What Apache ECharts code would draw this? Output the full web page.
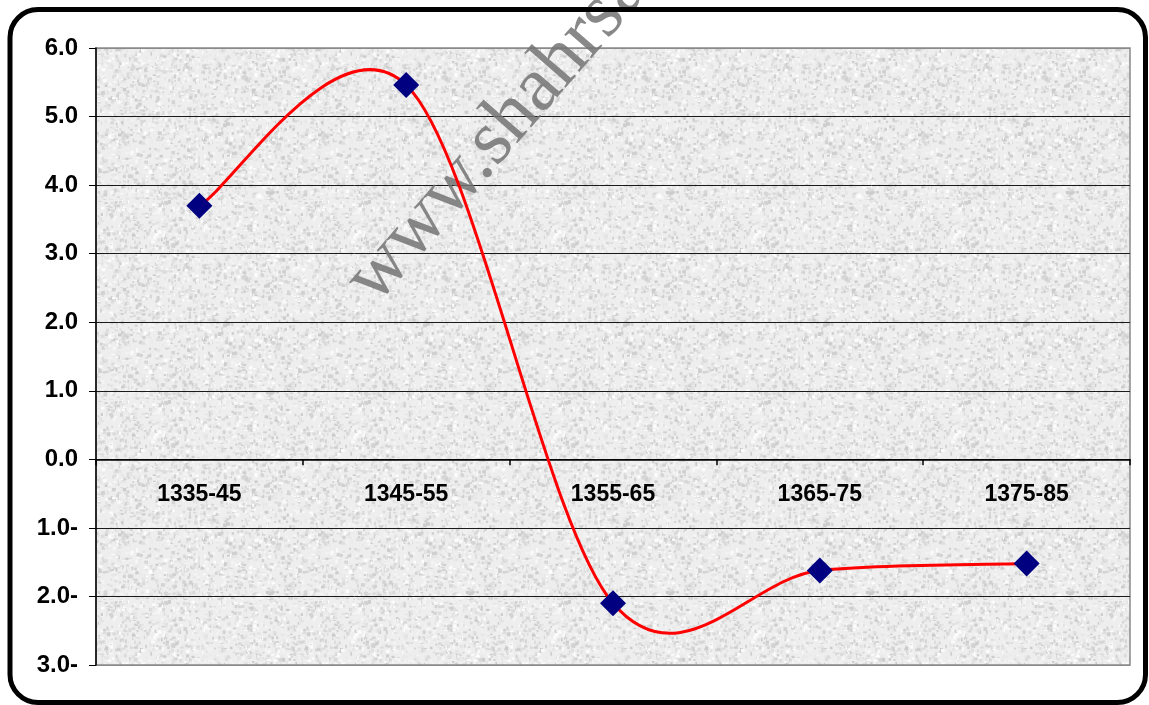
<!DOCTYPE html>
<html>
<head>
<meta charset="utf-8">
<script src="https://cdn.jsdelivr.net/npm/echarts@6/dist/echarts.min.js"></script>
<style>
html,body{margin:0;padding:0;background:#fff;}
#c{width:1149px;height:705px;}
</style>
</head>
<body>
<div id="c"></div>
<script>
const categories = ['1335-45', '1345-55', '1355-65', '1365-75', '1375-85'];
const values = [3.7, 5.46, -2.1, -1.62, -1.52];
const yMin = -3, yMax = 6, yStep = 1;
const watermarkText = 'www.shahrsaz';

// decorative granite-like texture (deterministic)
function makeTexture() {
  const cv = document.createElement('canvas');
  cv.width = 200; cv.height = 200;
  const ctx = cv.getContext('2d');
  ctx.fillStyle = '#eeeeee';
  ctx.fillRect(0, 0, 200, 200);
  let s = 12345;
  const rnd = () => { s = (s * 1103515245 + 12345) & 0x7fffffff; return s / 0x7fffffff; };
  for (let i = 0; i < 4000; i++) {
    const x = rnd() * 200, y = rnd() * 200;
    const g = Math.floor(203 + rnd() * 52);
    ctx.fillStyle = 'rgb(' + g + ',' + g + ',' + g + ')';
    const w = 1 + rnd() * 3, h = 1 + rnd() * 3;
    ctx.fillRect(x, y, w, h);
  }
  return cv;
}

const W = 1149, H = 705;
const gridTop = 48, gridBottom = 40;
const plotH = H - gridTop - gridBottom;
// distance (px) from the grid's bottom edge up to the zero line, so the category labels sit under the zero line
const zeroFromBottom = plotH * (0 - yMin) / (yMax - yMin);

const chart = echarts.init(document.getElementById('c'), null, {renderer: 'canvas'});
const nTicks = Math.round((yMax - yMin) / yStep) + 1;
const splitColors = [];
for (let i = 0; i < nTicks; i++) splitColors.push(i === 0 || i === nTicks - 1 ? '#8a8a8a' : '#1a1a1a');

// Excel-style smoothed segment (cardinal spline, 1/6 tangent factor) using the axis scales
function renderSegment(params, api) {
  const i = params.dataIndex;
  const n = values.length;
  if (i >= n - 1) return null;
  const pt = k => { const j = Math.max(0, Math.min(n - 1, k)); return api.coord([j, values[j]]); };
  const p0 = pt(i - 1), p1 = pt(i), p2 = pt(i + 1), p3 = pt(i + 2);
  return {
    type: 'bezierCurve',
    shape: {
      x1: p1[0], y1: p1[1],
      cpx1: p1[0] + (p2[0] - p0[0]) / 6, cpy1: p1[1] + (p2[1] - p0[1]) / 6,
      cpx2: p2[0] - (p3[0] - p1[0]) / 6, cpy2: p2[1] - (p3[1] - p1[1]) / 6,
      x2: p2[0], y2: p2[1]
    },
    style: {stroke: '#ff0000', lineWidth: 3, fill: null}
  };
}

chart.setOption({
  animation: false,
  backgroundColor: '#ffffff',
  grid: {
    left: 96, right: 19, top: gridTop, bottom: gridBottom,
    outerBoundsMode: 'none',
    containLabel: false,
    show: true,
    backgroundColor: {image: makeTexture(), repeat: 'repeat'},
    borderColor: '#8a8a8a',
    borderWidth: 1.5
  },
  xAxis: {
    type: 'category',
    data: categories,
    boundaryGap: true,
    axisLine: {show: true, onZero: true, lineStyle: {color: '#000', width: 1.5}},
    axisTick: {show: true, length: 6, lineStyle: {color: '#000', width: 1.5}},
    axisLabel: {
      margin: -zeroFromBottom + 24,
      fontFamily: 'Liberation Sans, Arial, sans-serif',
      fontWeight: 'bold',
      fontSize: 23,
      color: '#000'
    },
    splitLine: {show: false}
  },
  yAxis: {
    type: 'value',
    min: yMin, max: yMax, interval: yStep,
    axisLine: {show: true, lineStyle: {color: '#000', width: 1.5}},
    axisTick: {show: true, length: 7, lineStyle: {color: '#000', width: 1}},
    axisLabel: {
      margin: 18,
      fontFamily: 'Liberation Sans, Arial, sans-serif',
      fontWeight: 'bold',
      fontSize: 24,
      color: '#000',
      formatter: v => v < 0 ? Math.abs(v).toFixed(1) + '-' : v.toFixed(1)
    },
    splitLine: {show: true, lineStyle: {color: splitColors, width: 1}}
  },
  graphic: [
    {
      type: 'text',
      x: 390, y: 318,
      rotation: 49 * Math.PI / 180,
      z: 1,
      silent: true,
      style: {
        text: watermarkText,
        font: '78px "Liberation Serif", "Times New Roman", serif',
        fill: 'rgba(115,115,115,0.85)',
        textAlign: 'left',
        textVerticalAlign: 'bottom'
      }
    },
    {
      type: 'rect',
      z: 10,
      silent: true,
      shape: {x: 10, y: 9.5, width: 1135.5, height: 693, r: 28},
      style: {fill: 'none', stroke: '#000', lineWidth: 5}
    }
  ],
  series: [
    {
      type: 'custom',
      data: values.map((v, i) => [i, v]),
      renderItem: renderSegment,
      z: 4,
      silent: true
    },
    {
      type: 'line',
      data: values,
      z: 5,
      lineStyle: {opacity: 0},
      symbol: 'diamond',
      symbolSize: 26,
      itemStyle: {color: '#000080'}
    }
  ]
});
</script>
</body>
</html>
